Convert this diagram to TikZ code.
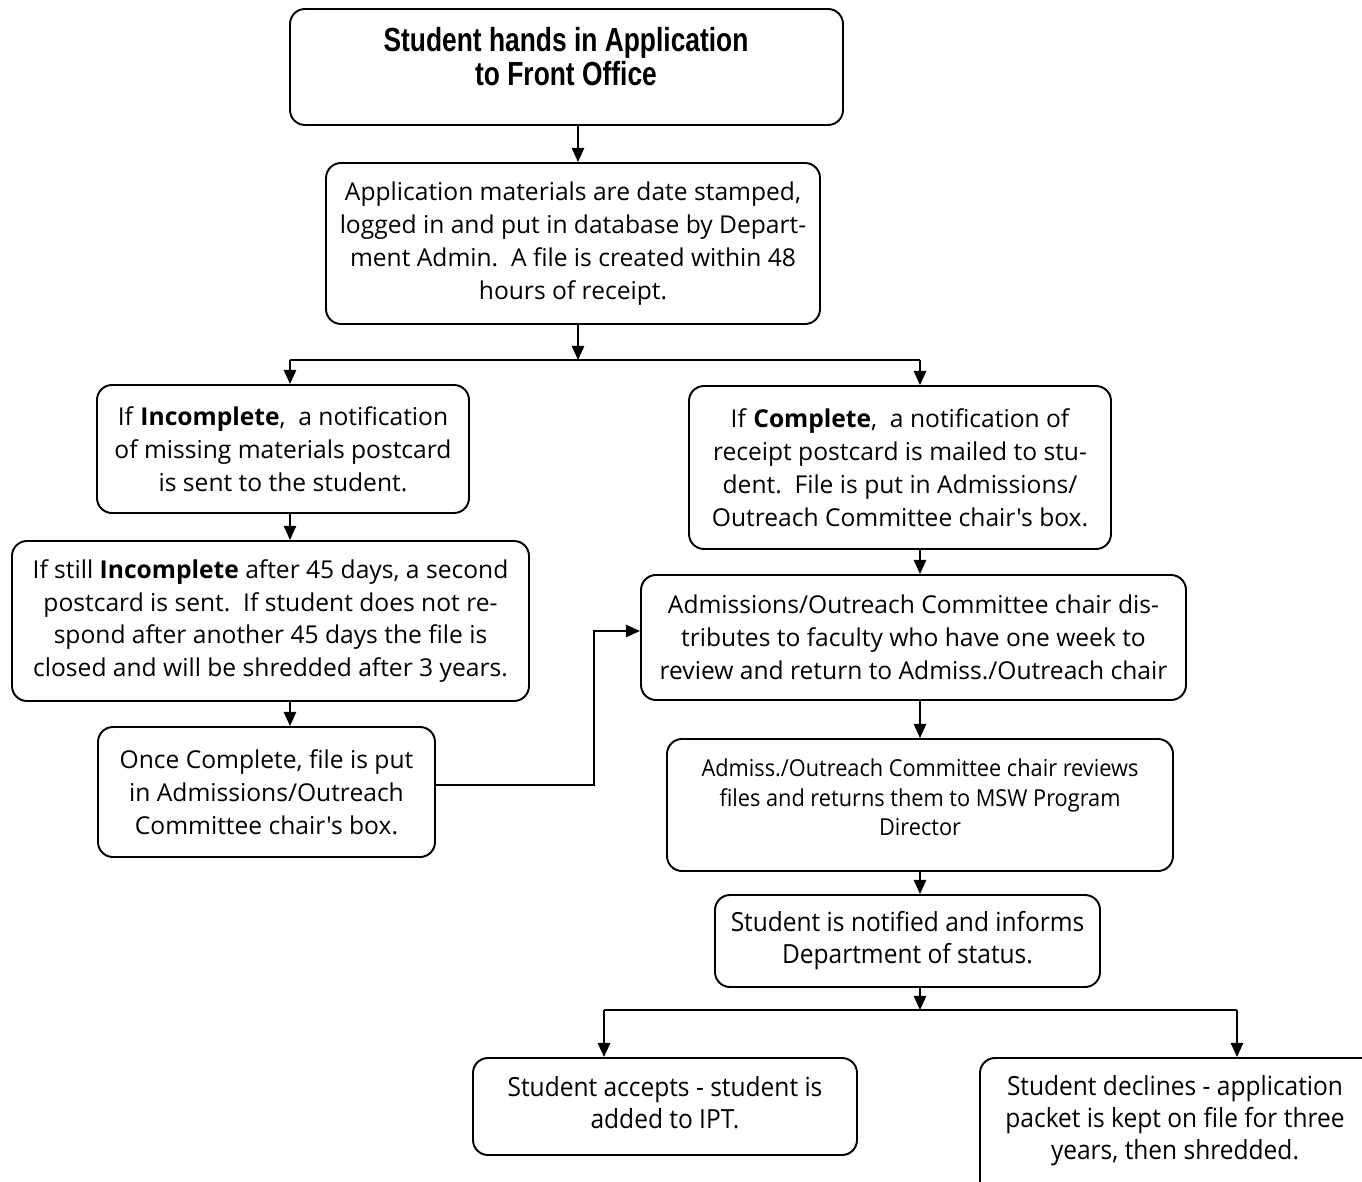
\documentclass[tikz,border=0pt]{standalone}
\usepackage{fontspec}
\setmainfont{Open Sans}
\newfontfamily\bodyf{Open Sans}
\newfontfamily\condf[FakeStretch=0.93]{Open Sans}
\newfontfamily\titlef[FakeStretch=0.79]{Liberation Sans}
\usetikzlibrary{arrows.meta}
\def\px{0.02cm}
\tikzset{
  box/.style={draw, line width=1.1pt, rounded corners=0.3cm, inner sep=0pt, align=center},
  bodytxt/.style={font=\bodyf\fontsize{14pt}{18.7pt}\selectfont},
  condtxt/.style={font=\condf\fontsize{15pt}{18.2pt}\selectfont},
  smalltxt/.style={font=\condf\fontsize{13.3pt}{16.7pt}\selectfont},
  titletxt/.style={font=\titlef\bfseries\fontsize{19pt}{19.3pt}\selectfont, align=center},
  arr/.style={line width=0.9pt, -{Triangle[length=8pt,width=7pt]}},
  ln/.style={line width=0.9pt},
}
\begin{document}
\begin{tikzpicture}[x=\px, y=-\px]
\useasboundingbox (0,0) rectangle (1362,1182);
\clip (0,0) rectangle (1362,1182);
\fill[white] (0,0) rectangle (1362,1182);
% boxes
\node[box, minimum width=553*\px, minimum height=116*\px] (b1) at (566.5,67) {};
\node[titletxt] (b1t) at (566,57) {Student hands in Application\\to Front Office};
\node[box, bodytxt, minimum width=494*\px, minimum height=161*\px] (b2) at (573,243.5)
  {Application materials are date stamped,\\logged in and put in database by Depart-\\ment Admin.\ \ A file is created within 48\\hours of receipt.};
\node[box, bodytxt, minimum width=372*\px, minimum height=128*\px] (b3) at (283,449)
  {If \textbf{Incomplete},\ \ a notification\\of missing materials postcard\\is sent to the student.};
\node[box, bodytxt, minimum width=422*\px, minimum height=163*\px] (b4) at (900,467.5)
  {If \textbf{Complete},\ \ a notification of\\receipt postcard is mailed to stu-\\dent.\ \ File is put in Admissions/\\Outreach Committee chair's box.};
\node[box, bodytxt, minimum width=517*\px, minimum height=160*\px] (b5) at (270.5,621)
  {If still \textbf{Incomplete} after 45 days, a second\\postcard is sent.\ \ If student does not re-\\spond after another 45 days the file is\\closed and will be shredded after 3 years.};
\node[box, bodytxt, minimum width=337*\px, minimum height=130*\px] (b6) at (266.5,792)
  {Once Complete, file is put\\in Admissions/Outreach\\Committee chair's box.};
\node[box, bodytxt, minimum width=545*\px, minimum height=125*\px] (b7) at (913.5,637.5)
  {Admissions/Outreach Committee chair dis-\\tributes to faculty who have one week to\\review and return to Admiss./Outreach chair};
\node[box, minimum width=506*\px, minimum height=132*\px] (b8) at (920,805) {};
\node[smalltxt, align=center] (b8t) at (920,797.5)
  {Admiss./Outreach Committee chair reviews\\files and returns them to MSW Program\\Director};
\node[box, condtxt, minimum width=385*\px, minimum height=92*\px] (b9) at (907.5,941)
  {Student is notified and informs\\Department of status.};
\node[box, condtxt, minimum width=384*\px, minimum height=97*\px] (b10) at (665,1106.5) {};
\node[condtxt, align=center] (b10t) at (665,1103)
  {Student accepts - student is\\added to IPT.};
\node[box, minimum width=420*\px, minimum height=160*\px] (b11) at (1190,1138) {};
\node[condtxt, align=center] (b11t) at (1175,1121)
  {Student declines - application\\packet is kept on file for three\\years, then shredded.};
% coordinates
\coordinate (xa) at (578,0);
\coordinate (xl) at (290,0);
\coordinate (xr) at (920,0);
\coordinate (s1) at (578,360);
\coordinate (s1l) at (290,360);
\coordinate (s1r) at (920,360);
\coordinate (j1) at (594,785);
\coordinate (j2) at (594,631);
\coordinate (s2) at (920,1010);
\coordinate (s2l) at (604,1010);
\coordinate (s2r) at (1237,1010);
% connectors
\draw[arr] (xa |- b1.south) -- (xa |- b2.north);
\draw[arr] (xa |- b2.south) -- (s1);
\draw[ln] (s1l) -- (s1r);
\draw[arr] (s1l) -- (s1l |- b3.north);
\draw[arr] (s1r) -- (s1r |- b4.north);
\draw[arr] (xl |- b3.south) -- (xl |- b5.north);
\draw[arr] (xl |- b5.south) -- (xl |- b6.north);
\draw[arr] (b6.east |- j1) -- (j1) -- (j2) -- (b7.west |- j2);
\draw[arr] (xr |- b4.south) -- (xr |- b7.north);
\draw[arr] (xr |- b7.south) -- (xr |- b8.north);
\draw[arr] (xr |- b8.south) -- (xr |- b9.north);
\draw[arr] (xr |- b9.south) -- (s2);
\draw[ln] (s2l) -- (s2r);
\draw[arr] (s2l) -- (s2l |- b10.north);
\draw[arr] (s2r) -- (s2r |- b11.north);
\end{tikzpicture}
\end{document}
